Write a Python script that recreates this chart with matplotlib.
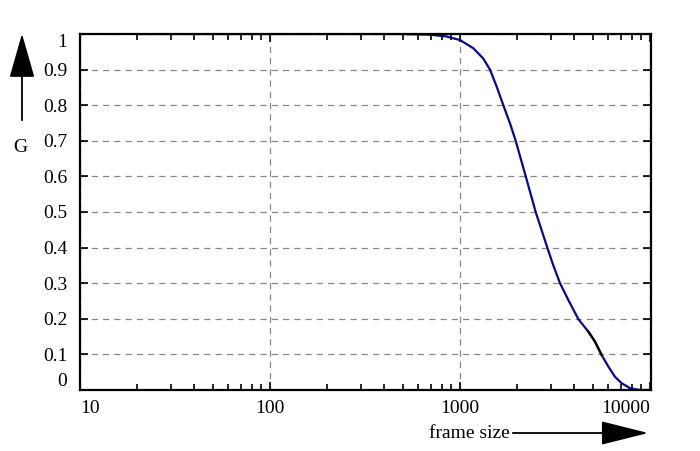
import numpy as np
import matplotlib
matplotlib.use('Agg')
import matplotlib.pyplot as plt
from matplotlib.patches import FancyArrowPatch
from matplotlib.ticker import FixedLocator, NullFormatter

plt.rcParams['font.family'] = ['Liberation Serif', 'DejaVu Serif']
plt.rcParams['font.size'] = 14

# curve
frame = [20, 50, 100, 200, 300, 483, 695, 850, 1000, 1175, 1326, 1438, 1560,
         1690, 1833, 1964, 2087, 2218, 2356, 2502, 2881, 3098, 3360, 3715,
         4197, 4735, 5134, 5568, 6034, 6543, 7094, 7852, 8853, 10122]
G = [1.0, 1.0, 1.0, 1.0, 1.0, 1.0, 0.998, 0.993, 0.983, 0.96, 0.931, 0.90,
     0.852, 0.80, 0.749, 0.70, 0.65, 0.60, 0.55, 0.50, 0.40, 0.35, 0.30,
     0.253, 0.199, 0.164, 0.136, 0.098, 0.066, 0.037, 0.019, 0.005, 0.0, 0.0]

# short piece drawn in black
frame_b = [4735, 5134, 5568]
G_b = [0.164, 0.136, 0.098]

yticks = [0, 0.1, 0.2, 0.3, 0.4, 0.5, 0.6, 0.7, 0.8, 0.9, 1]
ylabels = ['0', '0.1', '0.2', '0.3', '0.4', '0.5', '0.6', '0.7', '0.8', '0.9', '1']
xticks = [10, 100, 1000, 10000]
xlabels = ['10', '100', '1000', '10000']

fig = plt.figure(figsize=(7, 4.51), dpi=100)
ax = fig.add_axes([80/700, 61/451, 571/700, 356/451])

ax.plot(frame, G, color='#0a0a80', lw=1.6)
ax.plot(frame_b, G_b, color='black', lw=1.6)

ax.set_xscale('log')
ax.set_xlim(10, 10000 * 10**(1/190))
ax.set_ylim(0, 1)

ax.set_xticks(xticks)
ax.set_xticklabels(xlabels)
ax.xaxis.set_minor_locator(FixedLocator([m * 10**e for e in range(1, 4) for m in range(2, 10)]))
ax.xaxis.set_minor_formatter(NullFormatter())
ax.set_yticks(yticks)
ax.set_yticklabels(ylabels)

labs = ax.get_xticklabels()
labs[0].set_horizontalalignment('left')
labs[-1].set_horizontalalignment('right')
ylabs = ax.get_yticklabels()
ylabs[0].set_verticalalignment('bottom')
ylabs[-1].set_verticalalignment('top')

ax.tick_params(which='both', direction='in', top=True, right=True, width=1.2)
ax.tick_params(which='major', length=6, pad=7)
ax.tick_params(which='minor', length=4)
ax.tick_params(axis='y', pad=9)

for s in ax.spines.values():
    s.set_linewidth(1.6)

ax.grid(True, which='major', color='#888888', linestyle=(0, (5, 4)), lw=0.9)

# axis titles with arrows
fig.text(20/700, 1 - 148/451, 'G', ha='center', va='center')
fig.add_artist(FancyArrowPatch(
    (22/700, 1 - 123/451), (22/700, 1 - 31/451), transform=fig.transFigure,
    arrowstyle='-|>,head_length=2.8,head_width=0.8', mutation_scale=10,
    color='black', lw=1.3))
fig.text(469/700, 1 - 433/451, 'frame size', ha='center', va='center')
fig.add_artist(FancyArrowPatch(
    (510/700, 1 - 433/451), (651/700, 1 - 433/451), transform=fig.transFigure,
    arrowstyle='-|>,head_length=3.0,head_width=0.75', mutation_scale=10,
    color='black', lw=1.3))

fig.savefig('out.png', dpi=100)
